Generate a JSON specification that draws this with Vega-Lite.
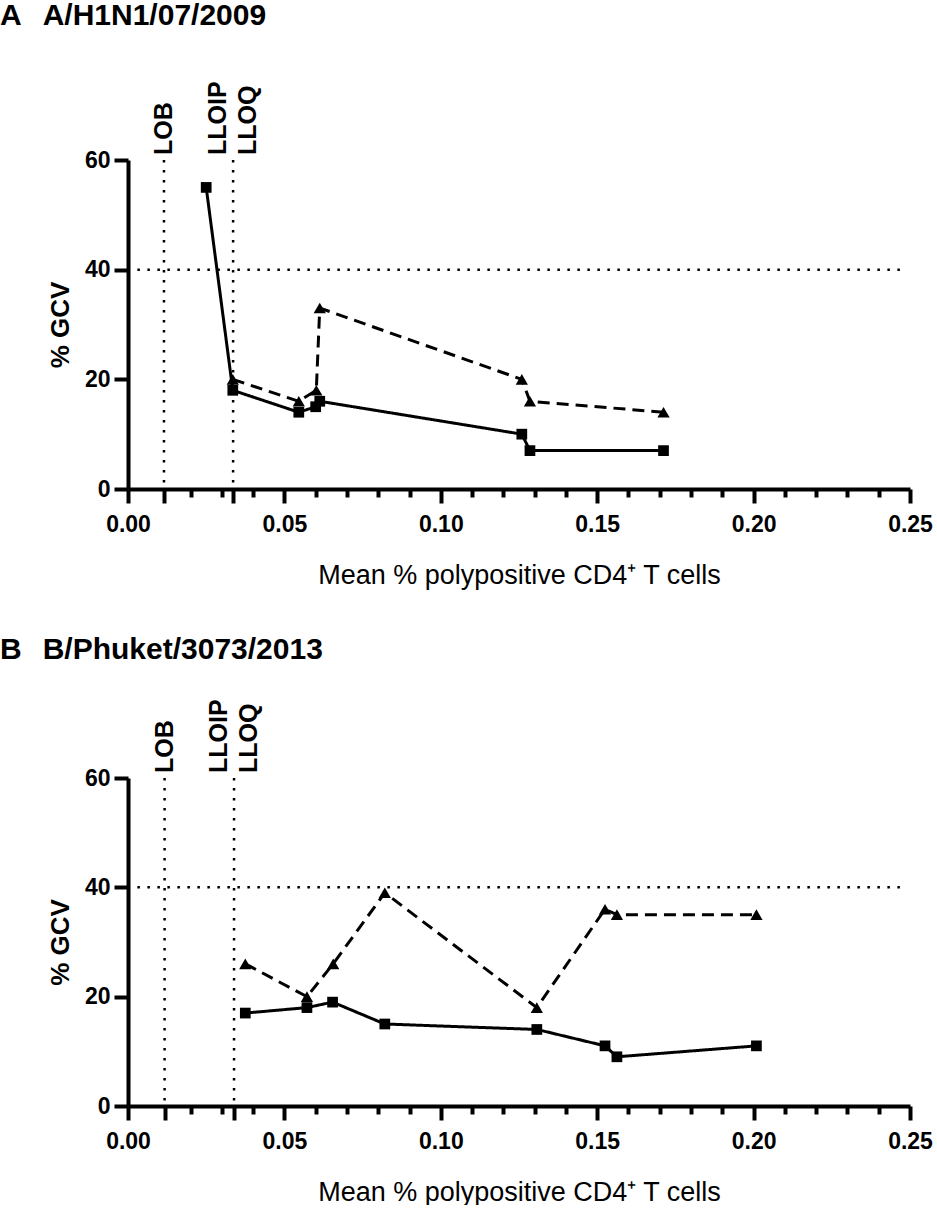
{
  "$schema": "https://vega.github.io/schema/vega-lite/v6.json",
  "padding": {"left": 0, "top": 1, "right": 0, "bottom": 0},
  "background": "white",
  "datasets": {
    "seriesA": [
      {"series": "square", "x": 0.025, "gcv": 55},
      {"series": "square", "x": 0.0335, "gcv": 18},
      {"series": "square", "x": 0.0546, "gcv": 14},
      {"series": "square", "x": 0.06, "gcv": 15},
      {"series": "square", "x": 0.0613, "gcv": 16},
      {"series": "square", "x": 0.1259, "gcv": 10},
      {"series": "square", "x": 0.1285, "gcv": 7},
      {"series": "square", "x": 0.1712, "gcv": 7},
      {"series": "triangle", "x": 0.0335, "gcv": 20},
      {"series": "triangle", "x": 0.0546, "gcv": 16},
      {"series": "triangle", "x": 0.0602, "gcv": 18},
      {"series": "triangle", "x": 0.0613, "gcv": 33},
      {"series": "triangle", "x": 0.1259, "gcv": 20},
      {"series": "triangle", "x": 0.1285, "gcv": 16},
      {"series": "triangle", "x": 0.1712, "gcv": 14}
    ],
    "seriesB": [
      {"series": "square", "x": 0.0375, "gcv": 17},
      {"series": "square", "x": 0.0572, "gcv": 18},
      {"series": "square", "x": 0.0654, "gcv": 19},
      {"series": "square", "x": 0.0821, "gcv": 15},
      {"series": "square", "x": 0.1307, "gcv": 14},
      {"series": "square", "x": 0.1525, "gcv": 11},
      {"series": "square", "x": 0.1563, "gcv": 9},
      {"series": "square", "x": 0.2009, "gcv": 11},
      {"series": "triangle", "x": 0.0375, "gcv": 26},
      {"series": "triangle", "x": 0.0572, "gcv": 20},
      {"series": "triangle", "x": 0.0656, "gcv": 26},
      {"series": "triangle", "x": 0.0821, "gcv": 39},
      {"series": "triangle", "x": 0.1307, "gcv": 18},
      {"series": "triangle", "x": 0.1525, "gcv": 36},
      {"series": "triangle", "x": 0.1563, "gcv": 35},
      {"series": "triangle", "x": 0.2009, "gcv": 35}
    ],
    "limitsA": [
      {"label": "LOB", "x": 0.0115},
      {"label": "LLOIP", "x": 0.0336},
      {"label": "LLOQ", "x": 0.0336}
    ],
    "limitsB": [
      {"label": "LOB", "x": 0.0117},
      {"label": "LLOIP", "x": 0.0339},
      {"label": "LLOQ", "x": 0.0339}
    ],
    "threshold": [{"gcv": 40, "x": 0.003, "x2": 0.247}]
  },
  "vconcat": [
    {
      "width": 782,
      "height": 329,
      "title": {"text": "A\u2002\u2009A/H1N1/07/2009", "anchor": "start", "frame": "group", "dx": -128, "offset": 50, "fontSize": 30, "font": "Liberation Sans", "fontWeight": "bold", "color": "black"},
      "encoding": {
        "x": {"field": "x", "type": "quantitative", "scale": {"domain": [0, 0.25], "nice": false, "zero": true},
          "axis": {"title": "Mean % polypositive CD4\u207A T cells", "titleFontWeight": "normal", "titleFontSize": 27, "titlePadding": 26,
            "values": [0, 0.0115, 0.02, 0.03, 0.0336, 0.04, 0.05, 0.06, 0.07, 0.08, 0.09, 0.1, 0.11, 0.12, 0.13, 0.14, 0.15, 0.16, 0.17, 0.18, 0.19, 0.2, 0.21, 0.22, 0.23, 0.24, 0.25],
            "labelExpr": "abs(datum.value*20 - round(datum.value*20)) < 1e-6 ? format(datum.value, '.2f') : ''",
            "tickSize": {"condition": {"test": "abs(datum.value*100 - round(datum.value*100)) > 1e-6 || abs(datum.value*20 - round(datum.value*20)) < 1e-6", "value": 14}, "value": 8},
            "labelFontSize": 23, "labelPadding": 10, "labelOverlap": false, "labelSeparation": 0, "labelFlush": false, "labelBound": false}}
      },
      "layer": [
        {
          "data": {"name": "seriesA"},
          "mark": {"type": "line", "color": "black", "strokeWidth": 3},
          "encoding": {
            "y": {"field": "gcv", "type": "quantitative", "scale": {"domain": [0, 60], "nice": false},
              "axis": {"title": "% GCV", "titleFontSize": 26, "titleFontWeight": "bold", "titlePadding": 11, "values": [0, 20, 40, 60], "tickSize": 14, "labelFontSize": 23, "labelPadding": 4}},
            "strokeDash": {"field": "series", "type": "nominal", "scale": {"domain": ["square", "triangle"], "range": [[1, 0], [12, 7]]}, "legend": null}
          }
        },
        {
          "data": {"name": "seriesA"},
          "mark": {"type": "point", "filled": true, "color": "black", "opacity": 1},
          "encoding": {
            "y": {"field": "gcv", "type": "quantitative"},
            "shape": {"field": "series", "type": "nominal", "scale": {"domain": ["square", "triangle"], "range": ["square", "triangle-up"]}, "legend": null},
            "size": {"field": "series", "type": "nominal", "scale": {"domain": ["square", "triangle"], "range": [115, 150]}, "legend": null}
          }
        },
        {
          "data": {"name": "threshold"},
          "mark": {"type": "rule", "color": "black", "strokeWidth": 2.5, "strokeDash": [2.5, 7.5]},
          "encoding": {"x2": {"field": "x2"}, "y": {"field": "gcv", "type": "quantitative"}}
        },
        {
          "data": {"name": "limitsA"},
          "transform": [{"filter": "datum.label != 'LLOIP'"}],
          "mark": {"type": "rule", "color": "black", "strokeWidth": 2.5, "strokeDash": [2.5, 7.5]},
          "encoding": {}
        },
        {
          "data": {"name": "limitsA"},
          "transform": [{"filter": "datum.label == 'LOB'"}],
          "mark": {"type": "text", "angle": 270, "align": "left", "baseline": "middle", "dx": 5, "dy": 0, "fontSize": 25, "fontWeight": "bold", "font": "Liberation Sans", "color": "black"},
          "encoding": {"y": {"datum": 60}, "text": {"field": "label"}}
        },
        {
          "data": {"name": "limitsA"},
          "transform": [{"filter": "datum.label == 'LLOIP'"}],
          "mark": {"type": "text", "angle": 270, "align": "left", "baseline": "middle", "dx": 5, "dy": -15, "fontSize": 25, "fontWeight": "bold", "font": "Liberation Sans", "color": "black"},
          "encoding": {"y": {"datum": 60}, "text": {"field": "label"}}
        },
        {
          "data": {"name": "limitsA"},
          "transform": [{"filter": "datum.label == 'LLOQ'"}],
          "mark": {"type": "text", "angle": 270, "align": "left", "baseline": "middle", "dx": 5, "dy": 15, "fontSize": 25, "fontWeight": "bold", "font": "Liberation Sans", "color": "black"},
          "encoding": {"y": {"datum": 60}, "text": {"field": "label"}}
        }
      ]
    },
    {
      "width": 782,
      "height": 328,
      "title": {"text": "B\u2002\u2009B/Phuket/3073/2013", "anchor": "start", "frame": "group", "dx": -128, "offset": 34, "fontSize": 30, "font": "Liberation Sans", "fontWeight": "bold", "color": "black"},
      "encoding": {
        "x": {"field": "x", "type": "quantitative", "scale": {"domain": [0, 0.25], "nice": false, "zero": true},
          "axis": {"title": "Mean % polypositive CD4\u207A T cells", "titleFontWeight": "normal", "titleFontSize": 27, "titlePadding": 26,
            "values": [0, 0.0117, 0.02, 0.03, 0.0339, 0.04, 0.05, 0.06, 0.07, 0.08, 0.09, 0.1, 0.11, 0.12, 0.13, 0.14, 0.15, 0.16, 0.17, 0.18, 0.19, 0.2, 0.21, 0.22, 0.23, 0.24, 0.25],
            "labelExpr": "abs(datum.value*20 - round(datum.value*20)) < 1e-6 ? format(datum.value, '.2f') : ''",
            "tickSize": {"condition": {"test": "abs(datum.value*100 - round(datum.value*100)) > 1e-6 || abs(datum.value*20 - round(datum.value*20)) < 1e-6", "value": 14}, "value": 8},
            "labelFontSize": 23, "labelPadding": 10, "labelOverlap": false, "labelSeparation": 0, "labelFlush": false, "labelBound": false}}
      },
      "layer": [
        {
          "data": {"name": "seriesB"},
          "mark": {"type": "line", "color": "black", "strokeWidth": 3},
          "encoding": {
            "y": {"field": "gcv", "type": "quantitative", "scale": {"domain": [0, 60], "nice": false},
              "axis": {"title": "% GCV", "titleFontSize": 26, "titleFontWeight": "bold", "titlePadding": 11, "values": [0, 20, 40, 60], "tickSize": 14, "labelFontSize": 23, "labelPadding": 4}},
            "strokeDash": {"field": "series", "type": "nominal", "scale": {"domain": ["square", "triangle"], "range": [[1, 0], [12, 7]]}, "legend": null}
          }
        },
        {
          "data": {"name": "seriesB"},
          "mark": {"type": "point", "filled": true, "color": "black", "opacity": 1},
          "encoding": {
            "y": {"field": "gcv", "type": "quantitative"},
            "shape": {"field": "series", "type": "nominal", "scale": {"domain": ["square", "triangle"], "range": ["square", "triangle-up"]}, "legend": null},
            "size": {"field": "series", "type": "nominal", "scale": {"domain": ["square", "triangle"], "range": [115, 150]}, "legend": null}
          }
        },
        {
          "data": {"name": "threshold"},
          "mark": {"type": "rule", "color": "black", "strokeWidth": 2.5, "strokeDash": [2.5, 7.5]},
          "encoding": {"x2": {"field": "x2"}, "y": {"field": "gcv", "type": "quantitative"}}
        },
        {
          "data": {"name": "limitsB"},
          "transform": [{"filter": "datum.label != 'LLOIP'"}],
          "mark": {"type": "rule", "color": "black", "strokeWidth": 2.5, "strokeDash": [2.5, 7.5]},
          "encoding": {}
        },
        {
          "data": {"name": "limitsB"},
          "transform": [{"filter": "datum.label == 'LOB'"}],
          "mark": {"type": "text", "angle": 270, "align": "left", "baseline": "middle", "dx": 5, "dy": 0, "fontSize": 25, "fontWeight": "bold", "font": "Liberation Sans", "color": "black"},
          "encoding": {"y": {"datum": 60}, "text": {"field": "label"}}
        },
        {
          "data": {"name": "limitsB"},
          "transform": [{"filter": "datum.label == 'LLOIP'"}],
          "mark": {"type": "text", "angle": 270, "align": "left", "baseline": "middle", "dx": 5, "dy": -15, "fontSize": 25, "fontWeight": "bold", "font": "Liberation Sans", "color": "black"},
          "encoding": {"y": {"datum": 60}, "text": {"field": "label"}}
        },
        {
          "data": {"name": "limitsB"},
          "transform": [{"filter": "datum.label == 'LLOQ'"}],
          "mark": {"type": "text", "angle": 270, "align": "left", "baseline": "middle", "dx": 5, "dy": 15, "fontSize": 25, "fontWeight": "bold", "font": "Liberation Sans", "color": "black"},
          "encoding": {"y": {"datum": 60}, "text": {"field": "label"}}
        }
      ]
    }
  ],
  "spacing": 47,
  "config": {
    "font": "Liberation Sans",
    "view": {"stroke": null},
    "axis": {"grid": false, "domainColor": "black", "domainWidth": 4, "tickColor": "black", "tickWidth": 4, "labelColor": "black", "labelFont": "Liberation Sans", "labelFontWeight": "bold", "titleFont": "Liberation Sans", "titleColor": "black"}
  }
}
